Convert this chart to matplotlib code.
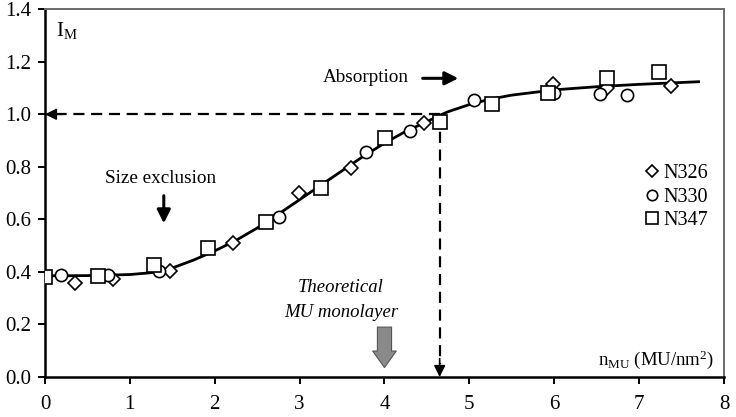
import matplotlib
matplotlib.use("Agg")
import matplotlib.pyplot as plt

# ---- data ----
n326_x = [0.35, 0.80, 1.47, 2.21, 2.99, 3.61, 4.47, 5.98, 6.62, 7.38]
n326_y = [0.357, 0.372, 0.405, 0.51, 0.70, 0.795, 0.966, 1.114, 1.10, 1.106]

n330_x = [0.19, 0.74, 1.34, 2.76, 3.78, 4.30, 5.05, 6.00, 6.54, 6.86]
n330_y = [0.388, 0.388, 0.405, 0.61, 0.855, 0.935, 1.053, 1.08, 1.076, 1.072]

n347_x = [0.0, 0.63, 1.29, 1.92, 2.60, 3.25, 4.01, 4.65, 5.27, 5.93, 6.62, 7.23]
n347_y = [0.38, 0.384, 0.426, 0.49, 0.59, 0.72, 0.91, 0.97, 1.04, 1.08, 1.137, 1.16]

fit_x = [0.0, 0.5, 1.0, 1.25, 1.5, 1.75, 2.0, 2.25, 2.5, 2.75, 3.0, 3.25, 3.5,
         3.75, 4.0, 4.25, 4.5, 4.65, 4.75, 5.0, 5.25, 5.5, 6.0, 6.5, 7.0, 7.7]
fit_y = [0.385, 0.386, 0.39, 0.397, 0.415, 0.445, 0.48, 0.52, 0.567, 0.62, 0.675,
         0.73, 0.785, 0.84, 0.89, 0.935, 0.972, 0.996, 1.01, 1.037, 1.058, 1.073,
         1.093, 1.105, 1.114, 1.124]

x_ticks = [0, 1, 2, 3, 4, 5, 6, 7, 8]
y_ticks = [0.0, 0.2, 0.4, 0.6, 0.8, 1.0, 1.2, 1.4]
y_tick_labels = ["0.0", "0.2", "0.4", "0.6", "0.8", "1.0", "1.2", "1.4"]

threshold_x = 4.65
threshold_y = 1.0
monolayer_x = 4.0

plt.rcParams['font.family'] = ['Liberation Serif', 'DejaVu Serif']
plt.rcParams['mathtext.fontset'] = 'custom'
plt.rcParams['mathtext.rm'] = 'Liberation Serif'
plt.rcParams['mathtext.it'] = 'Liberation Serif:italic'

fig = plt.figure(figsize=(7.36, 4.17), dpi=100)
ax = fig.add_axes([0.0611, 0.0959, 0.9226, 0.882])

ax.set_xlim(0, 8)
ax.set_ylim(0, 1.4)

# fitted curve
ax.plot(fit_x, fit_y, color='black', lw=2.0, zorder=2)

mk = dict(mfc='white', mec='black', mew=1.2, linestyle='none', zorder=3)
ax.plot(n326_x, n326_y, marker='D', ms=7.0, label='N326', **mk)
ax.plot(n330_x, n330_y, marker='o', ms=8.8, label='N330', **mk)
ax.plot(n347_x, n347_y, marker='s', ms=10.5, label='N347', **mk)

# dashed guide arrows
ax.plot([threshold_x, 0.12], [threshold_y, threshold_y], color='black', lw=1.6,
        dashes=(5, 3), zorder=1)
ax.annotate('', xy=(0.0, threshold_y), xytext=(0.2, threshold_y),
            arrowprops=dict(arrowstyle='-|>', color='black', lw=1.2,
                            mutation_scale=17, shrinkA=0, shrinkB=0))
ax.plot([threshold_x, threshold_x], [threshold_y, 0.05], color='black', lw=1.6,
        dashes=(5, 3), zorder=1)
ax.annotate('', xy=(threshold_x, 0.0), xytext=(threshold_x, 0.07),
            arrowprops=dict(arrowstyle='-|>', color='black', lw=1.2,
                            mutation_scale=17, shrinkA=0, shrinkB=0))

# text annotations
ax.text(3.78, 1.14, 'Absorption', ha='center', va='center', fontsize=13.8)
ax.annotate('', xy=(4.87, 1.137), xytext=(4.45, 1.137),
            arrowprops=dict(arrowstyle='-|>', color='black', lw=2.2,
                            mutation_scale=20, shrinkA=0, shrinkB=0))

ax.text(1.36, 0.757, 'Size exclusion', ha='center', va='center', fontsize=13.8)
ax.annotate('', xy=(1.40, 0.585), xytext=(1.40, 0.69),
            arrowprops=dict(arrowstyle='-|>', color='black', lw=2.2,
                            mutation_scale=20, shrinkA=0, shrinkB=0))

ax.text(3.49, 0.34, 'Theoretical', ha='center', va='center', fontsize=13.5,
        style='italic')
ax.text(3.49, 0.245, 'MU monolayer', ha='center', va='center', fontsize=13.5,
        style='italic')
ax.annotate('', xy=(monolayer_x, 0.036), xytext=(monolayer_x, 0.19),
            arrowprops=dict(arrowstyle='simple,head_length=0.7,head_width=1.0,tail_width=0.6',
                            fc='#8a8a8a', ec='#555555', lw=0.8,
                            mutation_scale=17, shrinkA=0, shrinkB=0))

ax.text(0.13, 1.32, r'I$_{\mathrm{M}}$', ha='left', va='center', fontsize=15)
ax.text(7.88, 0.065, r'n$_{\mathrm{MU}}$ (MU/nm$^{2}$)', ha='right', va='center',
        fontsize=13.5)

# axes styling
ax.set_xticks(x_ticks)
ax.set_yticks(y_ticks)
ax.set_yticklabels(y_tick_labels)
ax.tick_params(axis='both', direction='out', length=5, width=1.4,
               labelsize=15, colors='black', pad=5)
ax.tick_params(axis='x', pad=8)
for s in ['left', 'bottom']:
    ax.spines[s].set_linewidth(1.8)
    ax.spines[s].set_color('black')
for s in ['top', 'right']:
    ax.spines[s].set_linewidth(1.4)
    ax.spines[s].set_color('#6a6a6a')

leg = ax.legend(loc='upper right', bbox_to_anchor=(0.988, 0.6), frameon=False,
                fontsize=14.5, handletextpad=0.05, handlelength=1.0,
                labelspacing=0.2, borderaxespad=0, markerscale=0.85)

fig.savefig('out.png', dpi=100)
